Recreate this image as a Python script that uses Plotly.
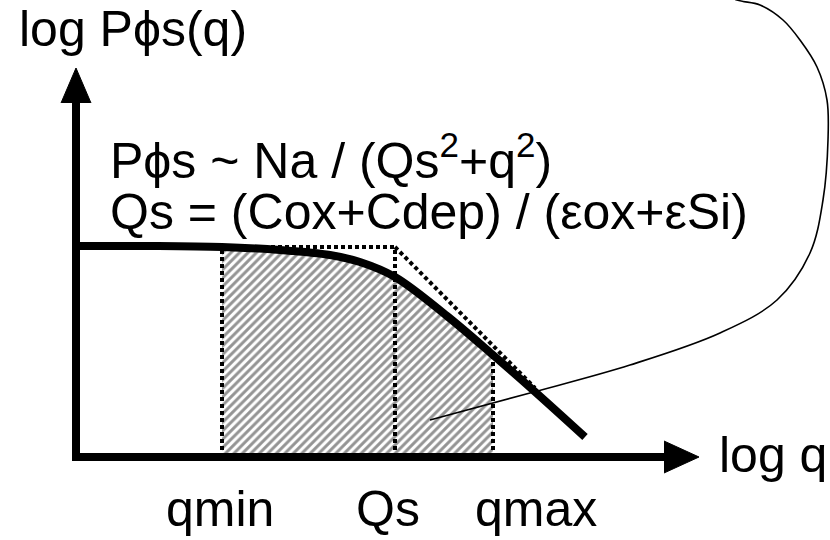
import plotly.graph_objects as go

# Schematic coordinates: x grows to the right (log q), y grows upward (log P)
# Both axes span the full figure so one unit is one pixel.
X_RANGE = [0, 830]
Y_RANGE = [0, 540]

# Power spectrum curve  P ~ Na / (Qs^2 + q^2)
curve_logq = [76, 150, 222, 280, 330, 360, 395, 447, 493, 533, 585]
curve_logP = [294, 294, 293, 290, 285, 278, 263, 224, 185, 150, 103]

# Marked wave numbers on the q axis
q_names = ["qmin", "Qs", "qmax"]
q_marks = [222, 395, 493]
q_label_pos = [220, 388, 536]

# Asymptotes: plateau and the high-q slope
plateau_logq = [222, 395]
plateau_logP = [293, 293]
slope_logq = [395, 535]
slope_logP = [293, 152]

# Axis frame
axis_origin = (76, 83)
x_axis_end = 668
y_axis_end = 440
x_head_logq = [664, 699, 664]
x_head_logP = [99, 83, 67]
y_head_logq = [61, 76, 91]
y_head_logP = [437, 472, 437]

# Thin pointer line towards the integrated band
pointer_logq = [430, 530, 630, 720, 777, 810, 823, 828, 827, 817, 800, 783, 760, 737, 715]
pointer_logP = [120, 147, 175, 207, 240, 287, 340, 400, 440, 473, 500, 520, 535, 540, 550]

FONT = "Liberation Sans, Arial, sans-serif"
FS = 50

fig = go.Figure()

# Hatched band between qmin and qmax under the curve
band_x, band_y = [q_marks[0]], [axis_origin[1]]
for xv, yv in zip(curve_logq, curve_logP):
    if q_marks[0] <= xv <= q_marks[2]:
        band_x.append(xv)
        band_y.append(yv)
band_x += [q_marks[2]]
band_y += [axis_origin[1]]
fig.add_trace(go.Scatter(
    x=band_x, y=band_y, mode="lines", fill="toself",
    line=dict(width=0, color="rgba(0,0,0,0)"),
    fillcolor="white",
    fillpattern=dict(shape="/", size=6, solidity=0.5, fgcolor="#2a2a2a", bgcolor="white"),
    hoverinfo="skip"))

# Dotted guides
dot = dict(color="black", width=4, dash="4px,3px")
for xv in q_marks:
    top = plateau_logP[0] if xv <= plateau_logq[1] else curve_logP[curve_logq.index(xv)]
    fig.add_trace(go.Scatter(x=[xv, xv], y=[axis_origin[1], top], mode="lines",
                             line=dot, hoverinfo="skip"))
fig.add_trace(go.Scatter(x=plateau_logq, y=plateau_logP, mode="lines", line=dot, hoverinfo="skip"))
fig.add_trace(go.Scatter(x=slope_logq, y=slope_logP, mode="lines", line=dot, hoverinfo="skip"))

# Main curve
fig.add_trace(go.Scatter(x=curve_logq, y=curve_logP, mode="lines",
                         line=dict(color="black", width=8, shape="spline", smoothing=1.0),
                         hoverinfo="skip"))

# Axes with arrow heads
fig.add_trace(go.Scatter(x=[axis_origin[0], axis_origin[0], x_axis_end],
                         y=[y_axis_end, axis_origin[1], axis_origin[1]],
                         mode="lines", line=dict(color="black", width=8), hoverinfo="skip"))
for hx, hy in ((x_head_logq, x_head_logP), (y_head_logq, y_head_logP)):
    fig.add_trace(go.Scatter(x=hx, y=hy, mode="lines", fill="toself", fillcolor="black",
                             line=dict(color="black", width=1), hoverinfo="skip"))

# Pointer line
fig.add_trace(go.Scatter(x=pointer_logq, y=pointer_logP, mode="lines",
                         line=dict(color="black", width=1.6, shape="spline", smoothing=1.0),
                         hoverinfo="skip"))

def label(text, x, y, xanchor="left"):
    fig.add_annotation(x=x, y=y, text=text, showarrow=False, xanchor=xanchor,
                       yanchor="middle", font=dict(family=FONT, size=FS, color="black"))

label("log P\u03d5s(q)", 17, 511)
label("P\u03d5s ~ Na / (Qs<sup>2</sup>+q<sup>2</sup>)", 108, 383)
label("Qs = (Cox+Cdep) / (\u03b5ox+\u03b5Si)", 108, 328)
label("log q", 717, 85)
for name, xv in zip(q_names, q_label_pos):
    label(name, xv, 31, xanchor="center")

fig.update_layout(
    width=830, height=540, margin=dict(l=0, r=0, t=0, b=0),
    paper_bgcolor="white", plot_bgcolor="white", showlegend=False,
    xaxis=dict(range=X_RANGE, visible=False, fixedrange=True),
    yaxis=dict(range=Y_RANGE, visible=False, fixedrange=True),
)

fig.write_html("out.html")
